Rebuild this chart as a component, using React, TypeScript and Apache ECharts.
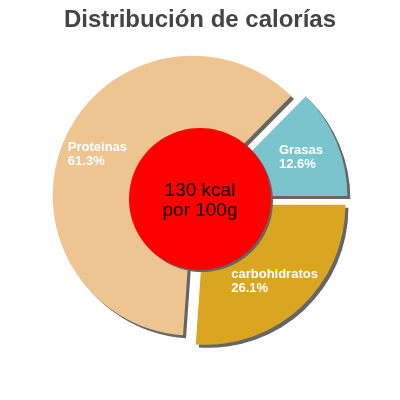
import React, { useEffect, useRef } from "react";
import * as echarts from "echarts";

const titleText = "Distribución de calorías";
const categories = ["Grasas", "carbohidratos", "Proteinas"];
const percents = [12.6, 26.1, 61.3];
const colors = ["#7AC5CD", "#DAA520", "#EEC591"];
const centerLines = ["130 kcal", "por 100g"];

const FONT = "'Liberation Sans', Arial, sans-serif";

function measure(text: string, font: string): number {
  const c = document.createElement("canvas").getContext("2d");
  if (!c) return text.length * 7;
  c.font = font;
  return Math.ceil(c.measureText(text).width);
}

export default function App() {
  const ref = useRef<HTMLDivElement>(null);
  useEffect(() => {
    if (!ref.current) return;
    const chart = echarts.init(ref.current, undefined, { renderer: "svg" });
    const labelFont = `bold 13px ${FONT}`;
    const startAngle = percents[0] * 3.6;
    const center = [200, 199];
    const mainData = categories.map((name, i) => {
      const pctText = percents[i].toFixed(1) + "%";
      const w = Math.max(measure(name, labelFont), measure(pctText, labelFont)) + 2;
      return {
        name,
        value: percents[i],
        selected: true,
        itemStyle: { color: colors[i] },
        label: {
          formatter: `{a|${name}}\n{a|${pctText}}`,
          rich: {
            a: {
              width: w,
              align: "left",
              color: "#fff",
              fontSize: 13,
              fontWeight: "bold",
              fontFamily: FONT,
              lineHeight: 14,
            },
          },
        },
      };
    });
    const shadowData = categories.map((name, i) => ({
      name,
      value: percents[i],
      selected: true,
      itemStyle: { color: "#666" },
    }));
    const common = {
      type: "pie",
      startAngle,
      clockwise: true,
      selectedMode: "multiple",
      selectedOffset: 8,
      avoidLabelOverlap: false,
      labelLine: { show: false },
      emphasis: { disabled: true },
      select: { itemStyle: {} },
    };
    chart.setOption({
      animation: false,
      title: {
        text: titleText,
        left: "center",
        top: 1,
        textStyle: {
          fontSize: 24,
          fontWeight: "bold",
          color: "#444",
          fontFamily: FONT,
        },
      },
      series: [
        {
          ...common,
          silent: true,
          center: [center[0] + 3, center[1] + 3],
          radius: [60, 140],
          itemStyle: { borderWidth: 0 },
          label: { show: false },
          data: shadowData,
        },
        {
          ...common,
          silent: true,
          center,
          radius: [60, 140],
          itemStyle: { borderWidth: 0 },
          label: { show: true, position: "inside" },
          data: mainData,
        },
        {
          type: "pie",
          silent: true,
          center: [center[0] + 2, center[1] + 2],
          radius: [0, 71],
          itemStyle: { color: "#666", borderWidth: 0 },
          label: { show: false },
          labelLine: { show: false },
          data: [{ value: 1, name: "s" }],
        },
        {
          type: "pie",
          silent: true,
          center,
          radius: [0, 71],
          itemStyle: { color: "#FF0000", borderWidth: 0 },
          labelLine: { show: false },
          label: {
            show: true,
            position: "center",
            formatter: centerLines.join("\n"),
            color: "#000",
            fontSize: 19,
            fontFamily: FONT,
            lineHeight: 20,
          },
          data: [{ value: 1, name: "kcal" }],
        },
      ],
    });
    return () => chart.dispose();
  }, []);
  return (
    <div
      ref={ref}
      style={{ position: "fixed", left: 0, top: 0, width: 400, height: 400 }}
    />
  );
}
